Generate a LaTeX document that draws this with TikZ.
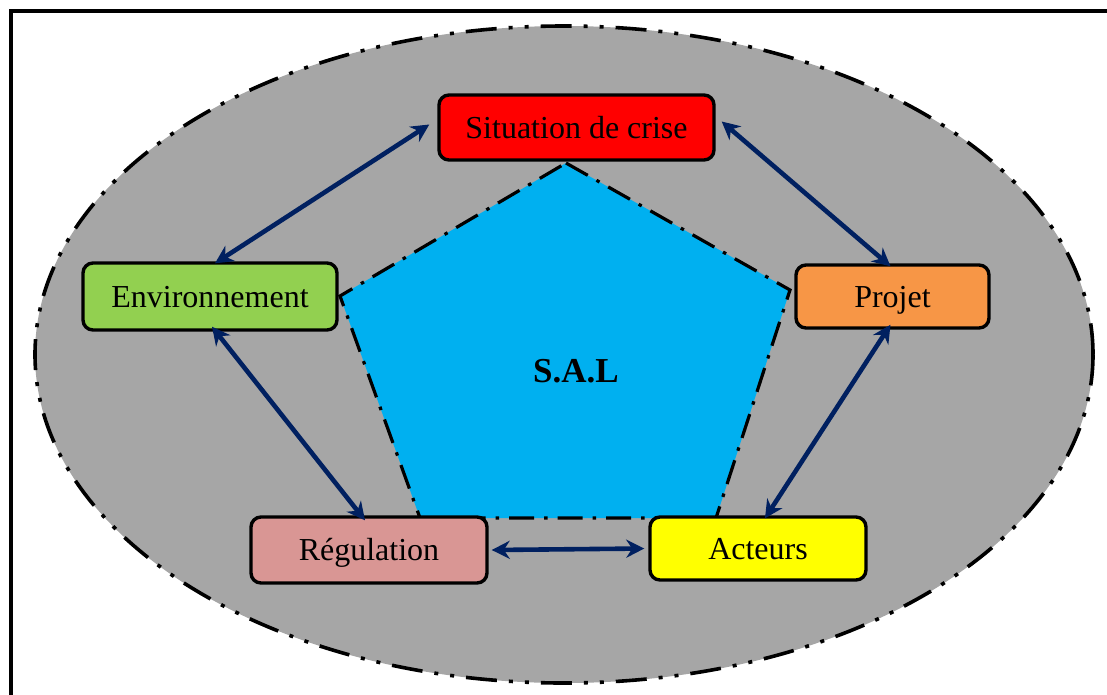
\documentclass[tikz,border=0pt]{standalone}
\usepackage{fontspec}
\setmainfont{Liberation Serif}
\usetikzlibrary{arrows.meta}
\definecolor{bggray}{HTML}{A6A6A6}
\definecolor{crisered}{HTML}{FF0000}
\definecolor{envgreen}{HTML}{92D050}
\definecolor{projorange}{HTML}{F79646}
\definecolor{regpink}{HTML}{D99694}
\definecolor{actyellow}{HTML}{FFFF00}
\definecolor{salcyan}{HTML}{00B0F0}
\definecolor{arrnavy}{HTML}{002060}
\tikzset{
  box/.style={draw=black, line width=3.4pt, rounded corners=10pt, inner sep=0pt,
    text height=21.5pt, text depth=0pt,
    font=\fontsize{32}{36}\selectfont, text=black},
  link/.style={draw=arrnavy, line width=4.6pt,
    {Stealth[length=18pt,width=18pt]}-{Stealth[length=18pt,width=18pt]}},
}
\begin{document}
\begin{tikzpicture}[x=1pt,y=-1pt]
\useasboundingbox (0,0) rectangle (1107,694);
\clip (0,0) rectangle (1107,694);
% frame
\draw[line width=4pt] (10.5,10.5) rectangle (1130,720);
% ellipse
\filldraw[fill=bggray, draw=black, line width=3.6pt,
  dash pattern=on 31pt off 12pt on 4pt off 12pt on 4pt off 12pt]
  (564,354.5) ellipse [x radius=529, y radius=328.5];
% pentagon
\coordinate (pt) at (566,163);
\coordinate (pr) at (790,290);
\coordinate (pbr) at (716,518);
\coordinate (pbl) at (420,518);
\coordinate (pl) at (340,296);
\filldraw[fill=salcyan, draw=black, line width=3.2pt,
  dash pattern=on 25pt off 10pt on 3.5pt off 10pt]
  (pt) -- (pr) -- (pbr) -- (pbl) -- (pl) -- cycle;
\node[font=\fontsize{35}{40}\selectfont\bfseries, text height=24pt, text depth=0pt] (sal) at (576,370) {S.A.L};
% boxes
\node[box, fill=crisered, minimum width=275pt, minimum height=65pt] (sit) at (576.5,127.5) {Situation de crise};
\node[box, fill=envgreen, minimum width=254pt, minimum height=67pt] (env) at (210,296.5) {Environnement};
\node[box, fill=projorange, minimum width=193pt, minimum height=63pt] (proj) at (892.5,296.5) {Projet};
\node[box, fill=regpink, minimum width=236pt, minimum height=66pt] (reg) at (369,550) {Régulation};
\node[box, fill=actyellow, minimum width=216pt, minimum height=63pt] (act) at (758,548.5) {Acteurs};
% links
\draw[link] ([xshift=-8pt,yshift=3pt]sit.west) -- ([xshift=5pt,yshift=-2pt]env.north);
\draw[link] ([xshift=6pt,yshift=6pt]sit.east) -- ([xshift=-2pt,yshift=-3pt]proj.north);
\draw[link] ([xshift=2pt,yshift=5pt]env.south) -- ([xshift=-4pt,yshift=-5pt]reg.north);
\draw[link] ([xshift=-2pt,yshift=5pt]proj.south) -- ([xshift=7pt,yshift=-3pt]act.north);
\draw[link] ([xshift=3pt]reg.east) -- ([xshift=-4pt]act.west);
\end{tikzpicture}
\end{document}
